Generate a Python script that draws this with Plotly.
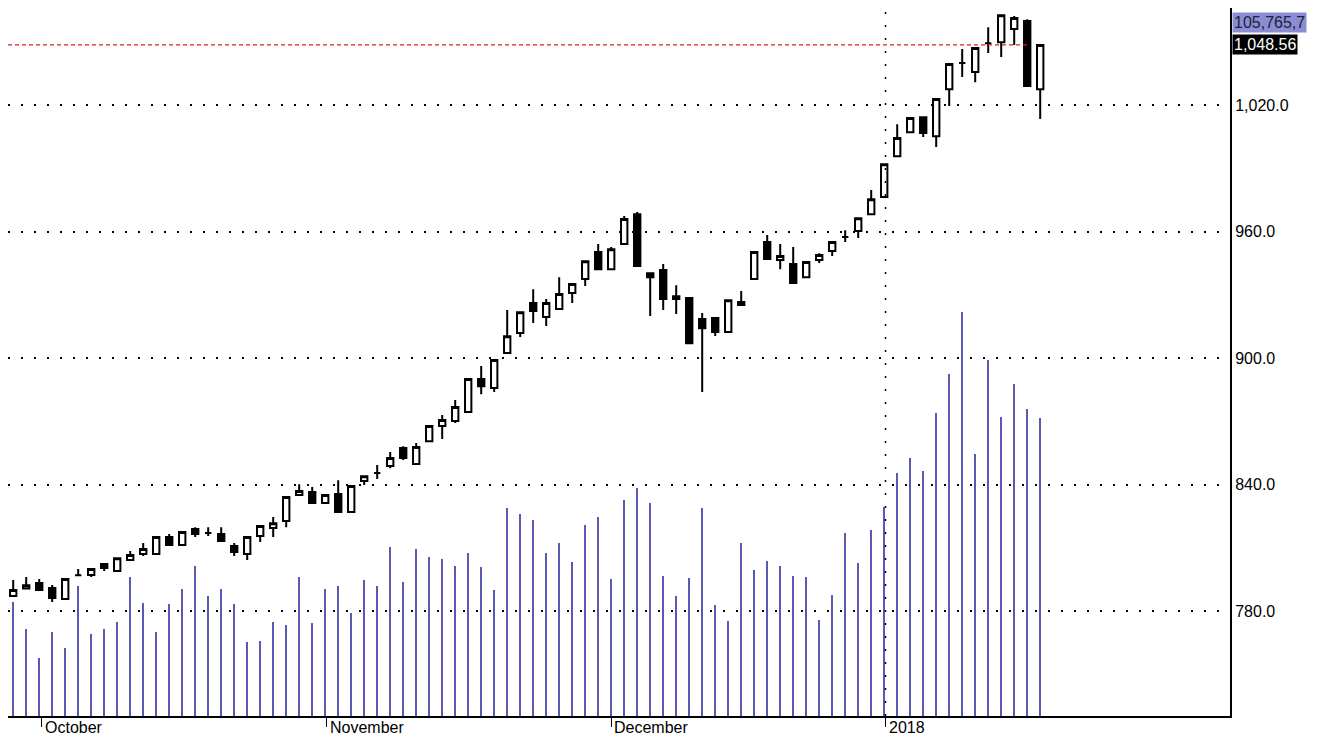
import plotly.graph_objects as go

opens = [787.1,790.7,793.3,790.9,785.7,797.0,797.1,802.3,799.0,804.2,807.0,807.0,815.1,811.3,818.9,817.0,816.5,810.8,807.0,815.6,
         819.4,822.7,835.0,836.5,831.2,835.5,827.0,841.7,845.5,848.8,857.3,849.7,860.6,867.8,870.1,874.4,890.1,885.8,902.4,911.9,
         926.1,919.5,923.3,930.9,937.5,950.3,942.2,954.1,968.3,940.3,941.8,928.0,928.5,918.5,919.0,912.4,926.6,937.5,955.1,946.5,
         944.6,938.4,946.5,950.8,957.4,960.3,968.3,976.4,995.8,1007.2,1014.3,1005.3,1027.6,1040.0,1035.7,1049.4,1049.9,1056.1,1059.9,1027.6]
highs = [794.7,796.1,795.2,792.3,795.2,799.9,799.9,802.3,805.1,808.5,812.3,815.1,816.5,817.5,819.8,819.8,819.8,812.3,815.1,820.3,
         824.6,834.1,840.2,838.8,835.0,842.0,839.3,844.0,849.3,855.4,858.2,859.7,867.8,873.0,880.1,890.1,896.2,899.1,922.8,921.8,
         932.7,928.0,938.4,935.1,946.0,954.1,952.7,967.4,969.3,940.3,944.6,934.6,928.5,921.4,919.0,927.5,931.8,950.3,958.4,954.1,
         952.7,945.6,949.8,955.1,960.7,966.4,979.7,992.0,1011.0,1013.9,1014.3,1022.9,1039.5,1046.6,1047.1,1057.0,1062.7,1062.3,1060.8,1048.6]
lows = [786.6,790.3,790.0,784.3,785.7,797.0,796.1,799.0,798.5,804.2,806.1,807.0,810.8,811.3,815.1,815.6,813.2,806.1,804.2,812.7,
        815.1,819.8,834.6,831.2,831.2,827.0,827.0,839.8,842.6,847.8,851.7,849.7,860.6,861.6,869.2,874.4,882.9,883.9,902.4,910.0,
        916.6,915.2,923.3,926.1,934.2,942.2,942.2,954.1,943.7,920.0,922.8,920.9,907.1,883.9,910.5,912.4,925.2,937.5,947.0,942.2,
        935.6,938.0,945.1,948.4,955.1,957.0,968.3,976.4,995.8,1007.2,1004.9,1000.1,1019.6,1033.4,1030.9,1044.7,1042.8,1048.6,1029.1,1013.4]
closes = [790.0,792.2,790.0,786.2,795.2,797.0,799.9,800.4,805.1,806.6,809.4,815.1,811.3,817.5,816.5,817.0,813.2,808.0,815.1,820.3,
          821.7,834.1,836.9,831.2,835.0,827.0,839.3,844.0,845.5,852.6,852.6,857.8,867.8,870.6,876.8,890.1,886.7,899.1,910.4,921.8,
          922.3,926.1,930.4,935.1,946.0,942.2,951.7,966.0,943.7,938.4,928.0,929.4,907.1,914.2,912.4,927.5,925.2,950.3,947.0,948.4,
          935.6,945.6,948.9,955.1,957.4,966.4,975.4,992.0,1004.4,1013.9,1006.8,1022.9,1039.5,1040.0,1047.1,1049.4,1062.7,1061.3,1029.1,1048.6]
volumes = [17.3,13.2,8.8,12.8,10.3,19.8,12.5,13.2,14.3,21.1,17.2,12.8,17.0,19.3,22.8,18.2,19.3,17.0,11.2,11.4,
           14.3,13.8,21.1,14.1,19.3,19.8,15.7,20.7,19.8,25.7,20.4,25.4,24.2,23.9,22.8,24.8,22.6,19.2,31.6,30.7,
           29.8,24.8,26.3,23.4,29.0,30.2,20.8,32.8,34.7,32.4,21.3,18.2,21.0,31.6,16.9,14.4,26.3,22.2,23.6,22.8,
           21.3,21.1,14.6,18.4,27.8,23.3,28.3,31.8,36.9,39.2,37.2,46.1,52.0,61.4,39.8,54.1,45.4,50.5,46.7,45.3]
month_labels = ["October", "November", "December", "2018"]
month_pos = [2.2, 24.1, 46.0, 67.1]
last_price = 1048.56
vol_label = "105,765,7"

idx = list(range(len(opens)))
font = "Liberation Sans, Arial, sans-serif"

fig = go.Figure()
fig.add_trace(go.Bar(x=idx, y=volumes, width=0.13, marker=dict(color="#5a5ab4", line=dict(width=0)),
                     yaxis="y", showlegend=False))
fig.add_trace(go.Candlestick(x=idx, open=opens, high=highs, low=lows, close=closes, yaxis="y2",
                             whiskerwidth=0, showlegend=False,
                             increasing=dict(line=dict(color="black", width=2), fillcolor="white"),
                             decreasing=dict(line=dict(color="black", width=2), fillcolor="black")))

xr = [-0.4, 93.6]
dots = "2px,11px"
fig.update_layout(
    width=1319, height=741, margin=dict(l=0, r=97, t=0, b=33),
    paper_bgcolor="white", plot_bgcolor="white", bargap=0,
    font=dict(family=font, size=16, color="black"),
    xaxis=dict(range=xr, rangeslider=dict(visible=False), showgrid=False, zeroline=False,
               tickmode="array", tickvals=month_pos, ticktext=[""] * 4, ticks="outside", ticklen=9,
               tickcolor="black", showline=True, linecolor="black", linewidth=2),
    yaxis=dict(range=[0, 107.6], visible=False, fixedrange=True),
    yaxis2=dict(range=[730.2, 1066.1], overlaying="y", side="right", tickmode="array",
                tickvals=[780, 840, 900, 960, 1020], tickformat=",.1f", ticks="",
                showgrid=True, gridcolor="black", griddash=dots, gridwidth=1.5, zeroline=False,
                showline=True, linecolor="black", linewidth=2, mirror=False),
)
fig.add_shape(type="line", xref="x", yref="paper", x0=month_pos[3], x1=month_pos[3], y0=0, y1=1,
              line=dict(color="black", width=1.5, dash=dots))
fig.add_shape(type="line", xref="x", yref="y2", x0=xr[0], x1=78, y0=last_price, y1=last_price,
              line=dict(color="#e02020", width=1.3, dash="4px,3px"))
for lab, p in zip(month_labels, month_pos):
    fig.add_annotation(x=p, y=0, xref="x", yref="paper", yshift=-1, text=lab, showarrow=False,
                       xanchor="left", yanchor="top", xshift=1, font=dict(size=16))
fig.add_annotation(x=1, y=last_price, xref="paper", yref="y2", text=f"{last_price:,.2f}", showarrow=False,
                   xanchor="left", xshift=2, bgcolor="black", font=dict(color="white", size=16), borderpad=1)
fig.add_annotation(x=1, y=1.0, xref="paper", yref="paper", yshift=-4, text=vol_label, showarrow=False,
                   xanchor="left", yanchor="top", xshift=2, bgcolor="#8c8cd2", font=dict(color="#202040", size=16), borderpad=1)
fig.write_html("out.html")
